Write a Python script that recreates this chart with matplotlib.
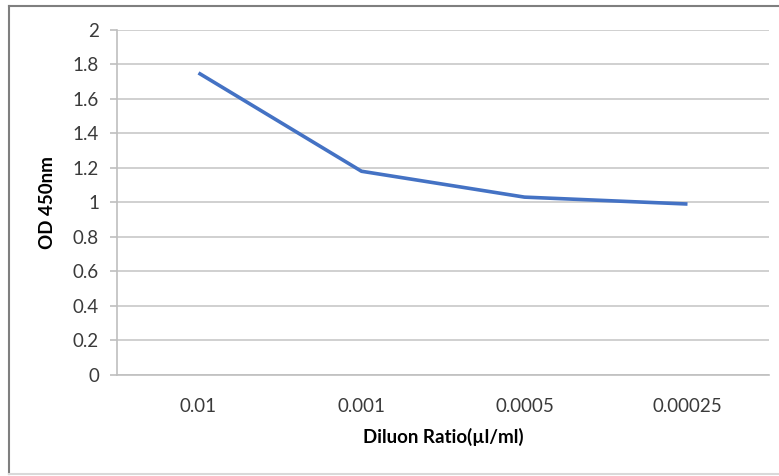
import matplotlib
matplotlib.use("Agg")
import matplotlib.pyplot as plt
from matplotlib.lines import Line2D

categories = ["0.01", "0.001", "0.0005", "0.00025"]
od_values = [1.75, 1.18, 1.03, 0.99]
y_ticks = [0, 0.2, 0.4, 0.6, 0.8, 1, 1.2, 1.4, 1.6, 1.8, 2]
y_tick_labels = ["0", "0.2", "0.4", "0.6", "0.8", "1", "1.2", "1.4", "1.6", "1.8", "2"]
x_title = "Diluon Ratio(\u00b5l/ml)"
y_title = "OD 450nm"

plt.rcParams['font.family'] = ['Lato', 'DejaVu Sans']

W, H = 779, 476
fig = plt.figure(figsize=(W / 100, H / 100), dpi=100)
fig.patch.set_facecolor("white")

ax = fig.add_axes([117 / W, 1 - 374.8 / H, (769 - 117) / W, (374.8 - 29.8) / H])
xs = list(range(len(categories)))
ax.plot(xs, od_values, color="#4472C4", linewidth=2.6, solid_capstyle="butt", zorder=3)

ax.set_xlim(-0.5, len(categories) - 0.5)
ax.set_ylim(0, 2)
ax.set_yticks(y_ticks)
ax.set_yticklabels(y_tick_labels)
ax.set_xticks(xs)
ax.set_xticklabels(categories)

ax.grid(axis="y", color="#C8C8C8", linewidth=1.2, zorder=1)
for s in ["top", "right"]:
    ax.spines[s].set_visible(False)
ax.spines["left"].set_color("#BFBFBF")
ax.spines["bottom"].set_color("#BFBFBF")
ax.spines["left"].set_linewidth(1.2)
ax.spines["bottom"].set_linewidth(1.2)

ax.tick_params(axis="y", length=5, width=1.2, color="#BFBFBF", pad=8,
               labelsize=13.5, labelcolor="#3A3A3A")
ax.tick_params(axis="x", length=0, pad=17, labelsize=13.5, labelcolor="#3A3A3A")

ax.set_xlabel(x_title, fontsize=13.5, fontweight="bold", color="black", labelpad=9)
ax.set_ylabel(y_title, fontsize=13.5, fontweight="bold", color="black", labelpad=12)

# chart border
fig.add_artist(Line2D([9 / W, 9 / W], [1 - 474 / H, 1 - 6 / H], transform=fig.transFigure,
                      color="#7F7F7F", linewidth=1.5))
fig.add_artist(Line2D([9 / W, 1.0], [1 - 6 / H, 1 - 6 / H], transform=fig.transFigure,
                      color="#7F7F7F", linewidth=1.5))
fig.add_artist(Line2D([9 / W, 1.0], [1 - 474 / H, 1 - 474 / H], transform=fig.transFigure,
                      color="#D9D9D9", linewidth=1.5))

fig.savefig("out.png", dpi=100, facecolor="white")
